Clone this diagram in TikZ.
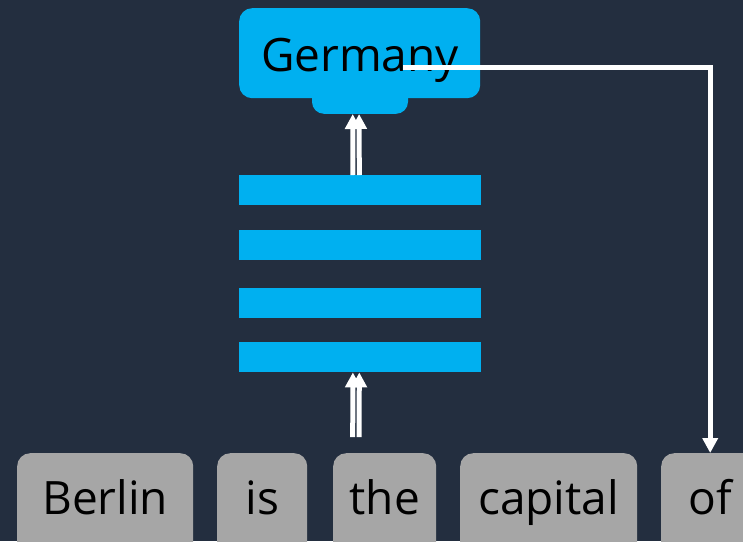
\documentclass[tikz,border=0pt]{standalone}
\usepackage{fontspec}
\setmainfont{Open Sans}
\usetikzlibrary{arrows.meta}
\definecolor{ink}{HTML}{232E3F}
\definecolor{sky}{HTML}{00B0F0}
\definecolor{chip}{HTML}{A6A6A6}
\begin{document}
\begin{tikzpicture}[x=1pt,y=-1pt,
  layer/.style={fill=sky, minimum width=242pt, minimum height=30pt, inner sep=0pt, anchor=north west},
  wordbox/.style={fill=chip, rounded corners=13pt, minimum height=160pt, inner sep=0pt, anchor=north west},
  word/.style={font=\fontsize{46}{52}\selectfont, anchor=base, text=black, inner sep=0pt},
  flow/.style={draw=white, line width=5pt, -{Triangle[width=15pt,length=15pt]}},
  link/.style={draw=white, line width=5pt, line cap=rect, -{Triangle[width=15pt,length=15pt]}},
]
\useasboundingbox (0,0) rectangle (743,541);
\fill[ink] (0,0) rectangle (743,541);
\begin{scope}
  \clip (0,0) rectangle (743,541);

  % output token box with its tab
  \node[fill=sky, rounded corners=12pt, minimum width=96pt, minimum height=40pt, inner sep=0pt, anchor=south] (tab) at (360,114) {};
  \node[fill=sky, rounded corners=13pt, minimum width=241pt, minimum height=90pt, inner sep=0pt, anchor=north west] (germany) at (239,8) {};
  \node[word] (germanytext) at (360,71) {Germany};

  % stacked layers
  \node[layer] (bar1) at (239,175) {};
  \node[layer] (bar2) at (239,230) {};
  \node[layer] (bar3) at (239,288) {};
  \node[layer] (bar4) at (239,342) {};

  % input tokens
  \node[wordbox, minimum width=176pt] (b1) at (17,453) {};
  \node[wordbox, minimum width=90pt]  (b2) at (217,453) {};
  \node[wordbox, minimum width=103pt] (b3) at (333,453) {};
  \node[wordbox, minimum width=177pt] (b4) at (460,453) {};
  \node[wordbox, minimum width=98pt]  (b5) at (661,453) {};
  \node[word] (w1) at ([yshift=-61pt]b1.north) {Berlin};
  \node[word] (w2) at ([yshift=-61pt]b2.north) {is};
  \node[word] (w3) at ([yshift=-61pt]b3.north) {the};
  \node[word] (w4) at ([yshift=-61pt]b4.north) {capital};
  \node[word] (w5) at ([yshift=-61pt]b5.north) {of};

  % data flow arrows
  \coordinate (src) at (360,437);
  \foreach \dx in {-7.3,-0.9} {
    \draw[flow] ([xshift=\dx pt]src) -- ([xshift=\dx pt]bar4.south);
    \draw[flow] ([xshift=\dx pt]bar1.north) -- ([xshift=\dx pt]tab.south);
  }

  % feedback of the output token
  \coordinate (hook) at (405,67);
  \draw[link] (hook) -| (b5.north);
\end{scope}
\end{tikzpicture}
\end{document}
